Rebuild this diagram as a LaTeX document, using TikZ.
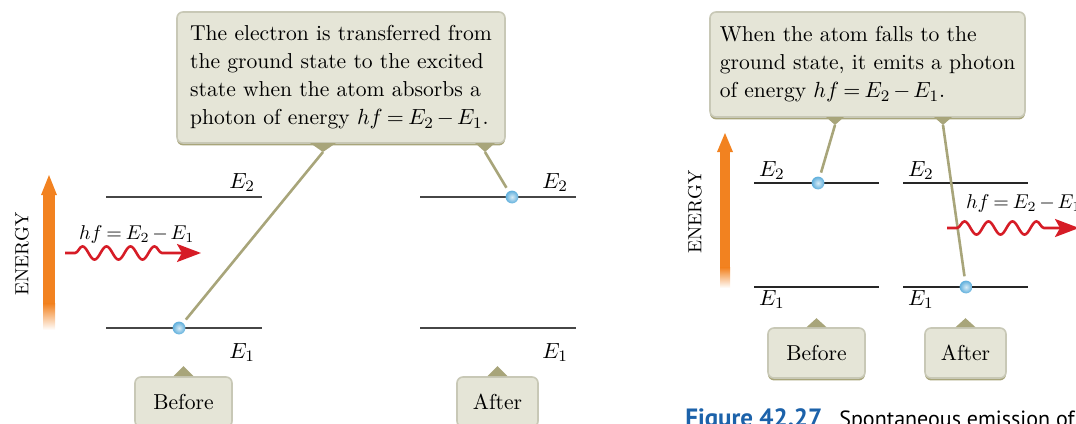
\documentclass[tikz,border=0pt]{standalone}
\usepackage{fontspec}
\newfontfamily\capfont{PT Sans}
\usetikzlibrary{arrows.meta,decorations.pathmorphing,shadows}
\definecolor{boxfill}{RGB}{229,229,215}
\definecolor{boxedge}{RGB}{200,200,182}
\definecolor{boxolive}{RGB}{168,165,122}
\definecolor{levelgray}{RGB}{70,70,70}
\definecolor{energyorange}{RGB}{242,130,32}
\definecolor{photonred}{RGB}{214,28,38}
\definecolor{electronblue}{RGB}{95,175,220}
\definecolor{captionblue}{RGB}{28,98,170}
\thickmuskip=3.5mu plus 2mu
\medmuskip=2.5mu plus 1mu

\begin{document}
\begin{tikzpicture}[x=0.5pt,y=-0.5pt,
  txt/.style={font=\fontsize{10.8}{14}\selectfont},
  hftxt/.style={font=\fontsize{10.2}{12}\selectfont},
  callout/.style={txt,draw=boxedge,fill=boxfill,rounded corners=3pt,line width=0.8pt,
    align=left,drop shadow={shadow xshift=0pt,shadow yshift=-1.2pt,fill=boxolive,opacity=1}},
  tag/.style={callout,align=center,inner sep=0pt},
  level/.style={draw=levelgray,line width=1pt},
  pointer/.style={draw=boxolive,line width=1.3pt,shorten >=2pt},
  electron/.style={circle,inner sep=0pt,minimum size=6.4pt,
    shading=radial,inner color=electronblue!25,outer color=electronblue},
  photon/.style={draw=photonred,line width=1.3pt,decorate,
    decoration={snake,segment length=12pt,amplitude=3.3pt,pre length=5pt,post length=15pt},
    -{Stealth[length=12pt,width=9pt,inset=2.5pt]}},
  energy/.style={font=\fontsize{9.5}{11}\selectfont,rotate=90}]
  \useasboundingbox (0,0) rectangle (1076,423);
  \clip (0,0) rectangle (1076,423);

  % Left: absorption
  \node[callout,minimum width=164pt,minimum height=65.5pt] (absorb) at (341,77.5)
    {The electron is transferred from\\ the ground state to the excited\\
     state when the atom absorbs a\\ photon of energy $hf = E_2 - E_1$.};
  \coordinate (pa1) at (323,152);
  \coordinate (pa2) at (485,152);
  \fill[boxolive] (pa1) ++(-13,-9) -- ++(13,9) -- ++(13,-9) -- cycle;
  \fill[boxolive] (pa2) ++(-10,-9) -- ++(10,9) -- ++(10,-9) -- cycle;
  % Energy arrow
  \fill[energyorange] (43,195) rectangle (55,304);
  \shade[top color=energyorange,bottom color=white] (43,303.5) rectangle (55,330);
  \fill[energyorange] (41,195) -- (49,175) -- (57,195) -- cycle;
  \node[energy] (energyA) at (22,254) {ENERGY};
  % Levels
  \draw[level] (106,197) -- (262,197);
  \draw[level] (106,328) -- (262,328);
  \draw[level] (420,197) -- (576,197);
  \draw[level] (420,328) -- (576,328);
  \node[txt,anchor=base east] (e2a) at (262,188) {$E_2$};
  \node[txt,anchor=base east] (e1a) at (262,358) {$E_1$};
  \node[txt,anchor=base east] (e2b) at (575,188) {$E_2$};
  \node[txt,anchor=base east] (e1b) at (575,358) {$E_1$};
  \node[hftxt,anchor=base west] (hfa) at (72,239) {$hf = E_2 - E_1$};
  \coordinate (wa1) at (65,253);
  \coordinate (wa2) at (201,253);
  \draw[photon] (wa1) -- (wa2);
  % Electrons
  \node[electron] (elA) at (179,328) {};
  \node[electron] (elB) at (512,197) {};
  \draw[pointer] (pa1) -- (elA);
  \draw[pointer] (pa2) -- (elB);
  % Before / After
  \node[tag,minimum width=48.5pt,minimum height=25pt] (beforeA) at (183.5,402) {Before};
  \node[tag,minimum width=40.5pt,minimum height=25pt] (afterA) at (497.5,402) {After};
  \fill[boxolive] (beforeA.north) ++(-10,0) -- ++(10,-10) -- ++(10,10) -- cycle;
  \fill[boxolive] (afterA.north) ++(-10,0) -- ++(10,-10) -- ++(10,10) -- cycle;

  % Right: emission
  \node[callout,minimum width=157.5pt,minimum height=52.5pt] (emit) at (867.5,64.5)
    {When the atom falls to the\\ ground state, it emits a photon\\
     of energy $hf = E_2 - E_1$.};
  \coordinate (pe1) at (835,125);
  \coordinate (pe2) at (943,125);
  \fill[boxolive] (pe1) ++(-9,-8) -- ++(9,8) -- ++(9,-8) -- cycle;
  \fill[boxolive] (pe2) ++(-9,-8) -- ++(9,8) -- ++(9,-8) -- cycle;
  % Energy arrow
  \fill[energyorange] (720,151) rectangle (730,268);
  \shade[top color=energyorange,bottom color=white] (720,267.5) rectangle (730,288);
  \fill[energyorange] (717,152) -- (725,133) -- (733,152) -- cycle;
  \node[energy] (energyB) at (695,212) {ENERGY};
  % Levels
  \draw[level,draw=black!85,line width=0.8pt] (754,183) -- (879,183);
  \draw[level,draw=black!85,line width=0.8pt] (754,287) -- (879,287);
  \draw[level,draw=black!85,line width=0.8pt] (903,183) -- (1028,183);
  \draw[level,draw=black!85,line width=0.8pt] (903,287) -- (1028,287);
  \node[txt,anchor=base west] (e2c) at (752,176) {$E_2$};
  \node[txt,anchor=base west] (e1c) at (752,305) {$E_1$};
  \node[txt,anchor=base west] (e2d) at (901,176) {$E_2$};
  \node[txt,anchor=base west] (e1d) at (901,305) {$E_1$};
  \node[hftxt,anchor=base west] (hfb) at (959,208) {$hf = E_2 - E_1$};
  % Electrons
  \node[electron] (elC) at (818,183) {};
  \node[electron] (elD) at (966,287) {};
  \draw[pointer] (pe1) -- (elC);
  \draw[pointer] (pe2) -- (elD);
  \coordinate (wb1) at (947,228);
  \coordinate (wb2) at (1079,228);
  \draw[photon] (wb1) -- (wb2);
  % Before / After
  \node[tag,minimum width=48.5pt,minimum height=25pt] (beforeB) at (816.5,353) {Before};
  \node[tag,minimum width=40.5pt,minimum height=25pt] (afterB) at (965.5,353) {After};
  \fill[boxolive] (beforeB.north) ++(-10,0) -- ++(10,-9) -- ++(10,9) -- cycle;
  \fill[boxolive] (afterB.north) ++(-10,0) -- ++(10,-9) -- ++(10,9) -- cycle;

  % Caption
  \node[anchor=base west,inner sep=0pt,font=\capfont\bfseries\fontsize{12.5}{14}\selectfont,
    text=captionblue] (figno) at (685,426) {Figure 42.27};
  \node[anchor=base west,inner sep=0pt,font=\capfont\fontsize{11}{13}\selectfont]
    (figtxt) at (839,426) {Spontaneous emission of};
\end{tikzpicture}
\end{document}
